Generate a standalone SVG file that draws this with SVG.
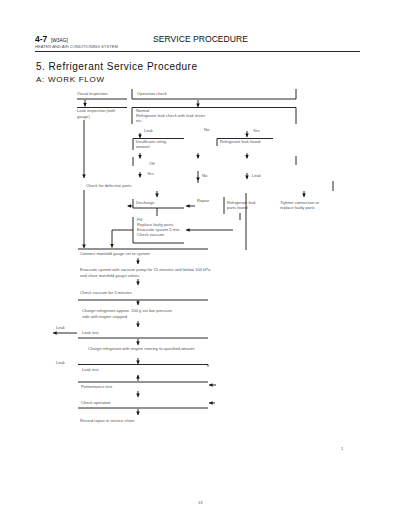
<svg xmlns="http://www.w3.org/2000/svg" width="400" height="518" viewBox="0 0 400 518">
<style>
text{font-family:"Liberation Sans",Arial,sans-serif;fill:#111}
.t{font-size:4.1px;fill:#555}
.ln{stroke:#111;stroke-width:0.9;fill:none}
.ar{stroke:#111;stroke-width:0.9;fill:none;marker-end:url(#ah)}
</style>
<defs>
<marker id="ah" viewBox="0 0 6 6" refX="6" refY="3" markerWidth="3.6" markerHeight="3.6" markerUnits="userSpaceOnUse" orient="auto">
<path d="M0,0 L6,3 L0,6 z" fill="#111"/>
</marker>
</defs>
<rect width="400" height="518" fill="#fff"/>

<g id="header">
<text x="35" y="42" style="font-size:8.4px;font-weight:bold">4-7</text>
<text x="51" y="42" style="font-size:4.8px">[W3AG]</text>
<text x="153" y="42" style="font-size:8.6px" textLength="95" lengthAdjust="spacing">SERVICE PROCEDURE</text>
<text x="35" y="48" class="t">HEATER AND AIR CONDITIONING SYSTEM</text>
<line x1="35" y1="51.5" x2="360" y2="51.5" class="ln"/>
<text x="36" y="70" style="font-size:10px" textLength="161" lengthAdjust="spacing">5. Refrigerant Service Procedure</text>
<text x="36" y="82" style="font-size:8px" textLength="68" lengthAdjust="spacing">A: WORK FLOW</text>
</g>

<g id="n1">
<text x="77" y="95" class="t">Visual inspection</text>
<line x1="77" y1="99" x2="127" y2="99" class="ln"/>
</g>
<g id="n2">
<path d="M132,89 V99 H296 V89" class="ln"/>
<text x="137" y="95" class="t">Operation check</text>
</g>
<g id="n3">
<line x1="77" y1="107.5" x2="127" y2="107.5" class="ln"/>
<text x="77" y="112" class="t">Leak inspection (with</text>
<text x="77" y="118" class="t">gauge)</text>
</g>
<g id="n4">
<path d="M132,124 V107.5 H296 V124" class="ln"/>
<text x="136" y="112" class="t">Normal</text>
<text x="136" y="117" class="t">Refrigerant leak check with leak tester</text>
<text x="136" y="122" class="t">etc.</text>
</g>
<g id="n5">
<text x="144" y="132" class="t">Leak</text>
<text x="204" y="131" class="t">No</text>
<text x="253" y="132" class="t">Yes</text>
</g>
<g id="n6">
<path d="M133,150 V138.5 H184" class="ln"/>
<text x="136" y="143" class="t">Insufficient refrig.</text>
<text x="136" y="148" class="t">amount</text>
</g>
<g id="n7">
<path d="M217,146 V138.5 H273" class="ln"/>
<text x="220" y="143" class="t">Refrigerant leak found</text>
</g>
<g id="n8">
<line x1="133" y1="157" x2="133" y2="166" class="ln"/>
<line x1="296" y1="156" x2="296" y2="165" class="ln"/>
<text x="149" y="165" class="t">OK</text>
</g>
<g id="n9">
<text x="147" y="175" class="t">Yes</text>
<text x="202" y="177" class="t">No</text>
<text x="252" y="177" class="t">Leak</text>
<line x1="333" y1="181" x2="333" y2="191" class="ln"/>
</g>
<g id="n10">
<text x="86" y="187" class="t">Check for defective parts</text>
</g>
<g id="n11">
<path d="M133,199 V208 H184" class="ln"/>
<text x="136" y="204" class="t">Discharge</text>
<text x="197" y="202" class="t">Repair</text>
</g>
<g id="n12">
<line x1="224" y1="197" x2="224" y2="214" class="ln"/>
<text x="227" y="204" class="t">Refrigerant leak</text>
<text x="227" y="209" class="t">parts found</text>
<text x="280" y="204" class="t">Tighten connection or</text>
<text x="280" y="209" class="t">replace faulty parts</text>
</g>
<g id="n13">
<path d="M133,217 V243 H184" class="ln"/>
<text x="137" y="221" class="t">Fill</text>
<text x="137" y="226" class="t">Replace faulty parts</text>
<text x="137" y="231" class="t">Evacuate system 5 min.</text>
<text x="137" y="236" class="t">Check vacuum</text>
</g>
<g id="n14">
<line x1="78" y1="249" x2="208" y2="249" class="ln"/>
<text x="80" y="255" class="t">Connect manifold gauge set to system</text>
<text x="80" y="271" class="t">Evacuate system with vacuum pump for 15 minutes until below 100 kPa</text>
<text x="80" y="277" class="t">and close manifold gauge valves</text>
<text x="80" y="294" class="t">Check vacuum for 5 minutes</text>
<line x1="78" y1="300" x2="208" y2="300" class="ln"/>
</g>
<g id="n15">
<text x="82" y="312" class="t">Charge refrigerant approx. 200 g via low pressure</text>
<text x="82" y="318" class="t">side with engine stopped</text>
</g>
<g id="n16">
<text x="82" y="334" class="t">Leak test</text>
<text x="56" y="329" class="t">Leak</text>
<line x1="78" y1="338" x2="208" y2="338" class="ln"/>
</g>
<g id="n17">
<text x="88" y="350" class="t">Charge refrigerant with engine running to specified amount</text>
</g>
<g id="n18">
<text x="56" y="364" class="t">Leak</text>
<path d="M78,364.5 H208 V366.5" class="ln"/>
<text x="82" y="371" class="t">Leak test</text>
</g>
<g id="n19">
<line x1="78" y1="382" x2="208" y2="382" class="ln"/>
<text x="81" y="388" class="t">Performance test</text>
</g>
<g id="n20">
<text x="81" y="404" class="t">Check operation</text>
<line x1="78" y1="408" x2="208" y2="408" class="ln"/>
</g>
<g id="n21">
<text x="80" y="422" class="t">Record repair in service sheet</text>
</g>
<g id="marks">
<text x="341" y="450" class="t">1</text>
<text x="198" y="504" class="t">13</text>
</g>

<g id="connectors">
<line x1="85" y1="100" x2="85" y2="106.5" class="ar"/>
<line x1="198" y1="100" x2="198" y2="107" class="ar"/>
<line x1="84" y1="120" x2="84" y2="178" class="ar"/>
<line x1="84" y1="190" x2="84" y2="248" class="ar"/>
<line x1="140" y1="133" x2="140" y2="138" class="ar"/>
<line x1="247" y1="131" x2="247" y2="137" class="ar"/>
<line x1="140" y1="153" x2="140" y2="158.5" class="ar"/>
<line x1="198" y1="153" x2="198" y2="158.5" class="ar"/>
<line x1="247" y1="153" x2="247" y2="158.5" class="ar"/>
<line x1="140" y1="172" x2="140" y2="177.5" class="ar"/>
<line x1="198" y1="171" x2="198" y2="181" class="ar"/>
<line x1="198" y1="181" x2="198" y2="183" class="ln"/>
<line x1="247" y1="173" x2="247" y2="179" class="ar"/>
<line x1="157" y1="191" x2="157" y2="197" class="ar"/>
<line x1="304" y1="191" x2="304" y2="197" class="ar"/>
<line x1="157" y1="208" x2="157" y2="216" class="ln"/>
<line x1="133" y1="206" x2="127.5" y2="206" class="ar"/>
<line x1="195" y1="206" x2="186" y2="206" class="ar"/>
<line x1="246" y1="193" x2="246" y2="250" class="ln"/>
<line x1="240" y1="213" x2="240" y2="220" class="ln"/>
<line x1="233" y1="230" x2="186" y2="230" class="ar"/>
<path d="M133,230 H112 V247.5" class="ar"/>
<line x1="138" y1="258" x2="138" y2="264" class="ar"/>
<line x1="138" y1="279" x2="138" y2="285" class="ar"/>
<line x1="138" y1="300" x2="138" y2="305" class="ar"/>
<line x1="138" y1="321" x2="138" y2="327" class="ar"/>
<line x1="77" y1="333" x2="53" y2="333" class="ar"/>
<line x1="138" y1="339" x2="138" y2="345" class="ar"/>
<line x1="138" y1="358" x2="138" y2="364" class="ar"/>
<line x1="138" y1="379" x2="138" y2="375" class="ar"/>
<line x1="138" y1="379" x2="138" y2="381" class="ln"/>
<line x1="216" y1="385" x2="209" y2="385" class="ar"/>
<line x1="138" y1="391" x2="138" y2="397" class="ar"/>
<line x1="215" y1="403" x2="209" y2="403" class="ar"/>
<line x1="138" y1="409" x2="138" y2="415" class="ar"/>
</g>
</svg>
